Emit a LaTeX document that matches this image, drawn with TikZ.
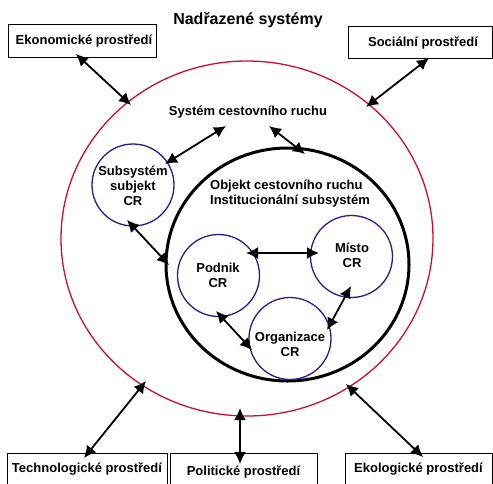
\documentclass[tikz,border=0pt]{standalone}
\usepackage{fontspec}
\setmainfont{Liberation Sans}
\usetikzlibrary{arrows.meta,shapes.geometric}
\definecolor{outred}{HTML}{C8102E}
\definecolor{subpurple}{HTML}{2E1A87}
\begin{document}
\begin{tikzpicture}[x=1pt,y=-1pt,
  lbl/.style={font=\bfseries\fontsize{13}{14}\selectfont, inner sep=0pt, align=center},
  envbox/.style={draw=black, line width=1pt, fill=white},
  subcirc/.style={draw=subpurple, line width=1.3pt, circle, minimum size=82pt, inner sep=0pt},
  link/.style={line width=1.8pt, {Latex[length=12pt,width=12pt]}-{Latex[length=12pt,width=12pt]}}]
\useasboundingbox (0,0) rectangle (493,483);
% outer systems
\node[draw=outred, line width=1.3pt, ellipse, minimum width=372pt, minimum height=355pt, inner sep=0pt] (outer) at (247,238.5) {};
\node[draw=black, line width=3pt, ellipse, minimum width=243pt, minimum height=233pt, inner sep=0pt] (inner) at (287.5,264.5) {};
% title
\node[lbl, font=\bfseries\fontsize{16}{18}\selectfont] (title) at (248,20.5) {Nadřazené systémy};
% environment boxes
\path[envbox] (8,24) rectangle (156,57);
\node[lbl] (ekon) at (84,41) {Ekonomické prostředí};
\path[envbox] (348,26) rectangle (492,58);
\node[lbl] (soc) at (423,43) {Sociální prostředí};
\path[envbox] (7,453) rectangle (167,490);
\node[lbl] (tech) at (87,469.5) {Technologické prostředí};
\path[envbox] (170,453) rectangle (317,490);
\node[lbl] (pol) at (243.5,471.5) {Politické prostředí};
\path[envbox] (345,453) rectangle (492,490);
\node[lbl] (eko) at (418.5,469) {Ekologické prostředí};
% labels
\node[lbl] (scr) at (248,112.5) {Systém cestovního ruchu};
\node[lbl, align=left] (obj) at (290,194) {Objekt cestovního ruchu\\[1pt]Institucionální subsystém};
% sub circles
\node[subcirc] (subj) at (133,185) {};
\node[lbl] at (133,186) {Subsystém\\[1pt]subjekt\\[1pt]CR};
\node[subcirc] (podnik) at (218.5,275.5) {};
\node[lbl] at (218,275) {Podnik\\[1pt]CR};
\node[subcirc] (misto) at (351.5,256.5) {};
\node[lbl] at (352,255) {Místo\\[1pt]CR};
\node[subcirc] (org) at (290,338.5) {};
\node[lbl] at (290,344.5) {Organizace\\[1pt]CR};
% connector end points
\coordinate (e1) at (76,54);   \coordinate (e2) at (131,105);
\coordinate (s1) at (429,58);  \coordinate (s2) at (366,107);
\coordinate (c1) at (226,126); \coordinate (c2) at (165,164);
\coordinate (c3) at (269,126); \coordinate (c4) at (305,154);
\coordinate (j1) at (127,220); \coordinate (j2) at (169,265);
\coordinate (p1) at (246,253); \coordinate (p2) at (319,253);
\coordinate (p3) at (216,311); \coordinate (p4) at (252,350);
\coordinate (m1) at (351,286); \coordinate (m2) at (327,330);
\coordinate (t1) at (146,381); \coordinate (t2) at (84,458);
\coordinate (o1) at (240,408); \coordinate (o2) at (240,464);
\coordinate (k1) at (346,384); \coordinate (k2) at (423,457);
% connectors
\draw[link] (e1) -- (e2);
\draw[link] (s1) -- (s2);
\draw[link] (c1) -- (c2);
\draw[link] (c3) -- (c4);
\draw[link] (j1) -- (j2);
\draw[link] (p1) -- (p2);
\draw[link] (p3) -- (p4);
\draw[link] (m1) -- (m2);
\draw[link] (t1) -- (t2);
\draw[link] (o1) -- (o2);
\draw[link] (k1) -- (k2);
\end{tikzpicture}
\end{document}
